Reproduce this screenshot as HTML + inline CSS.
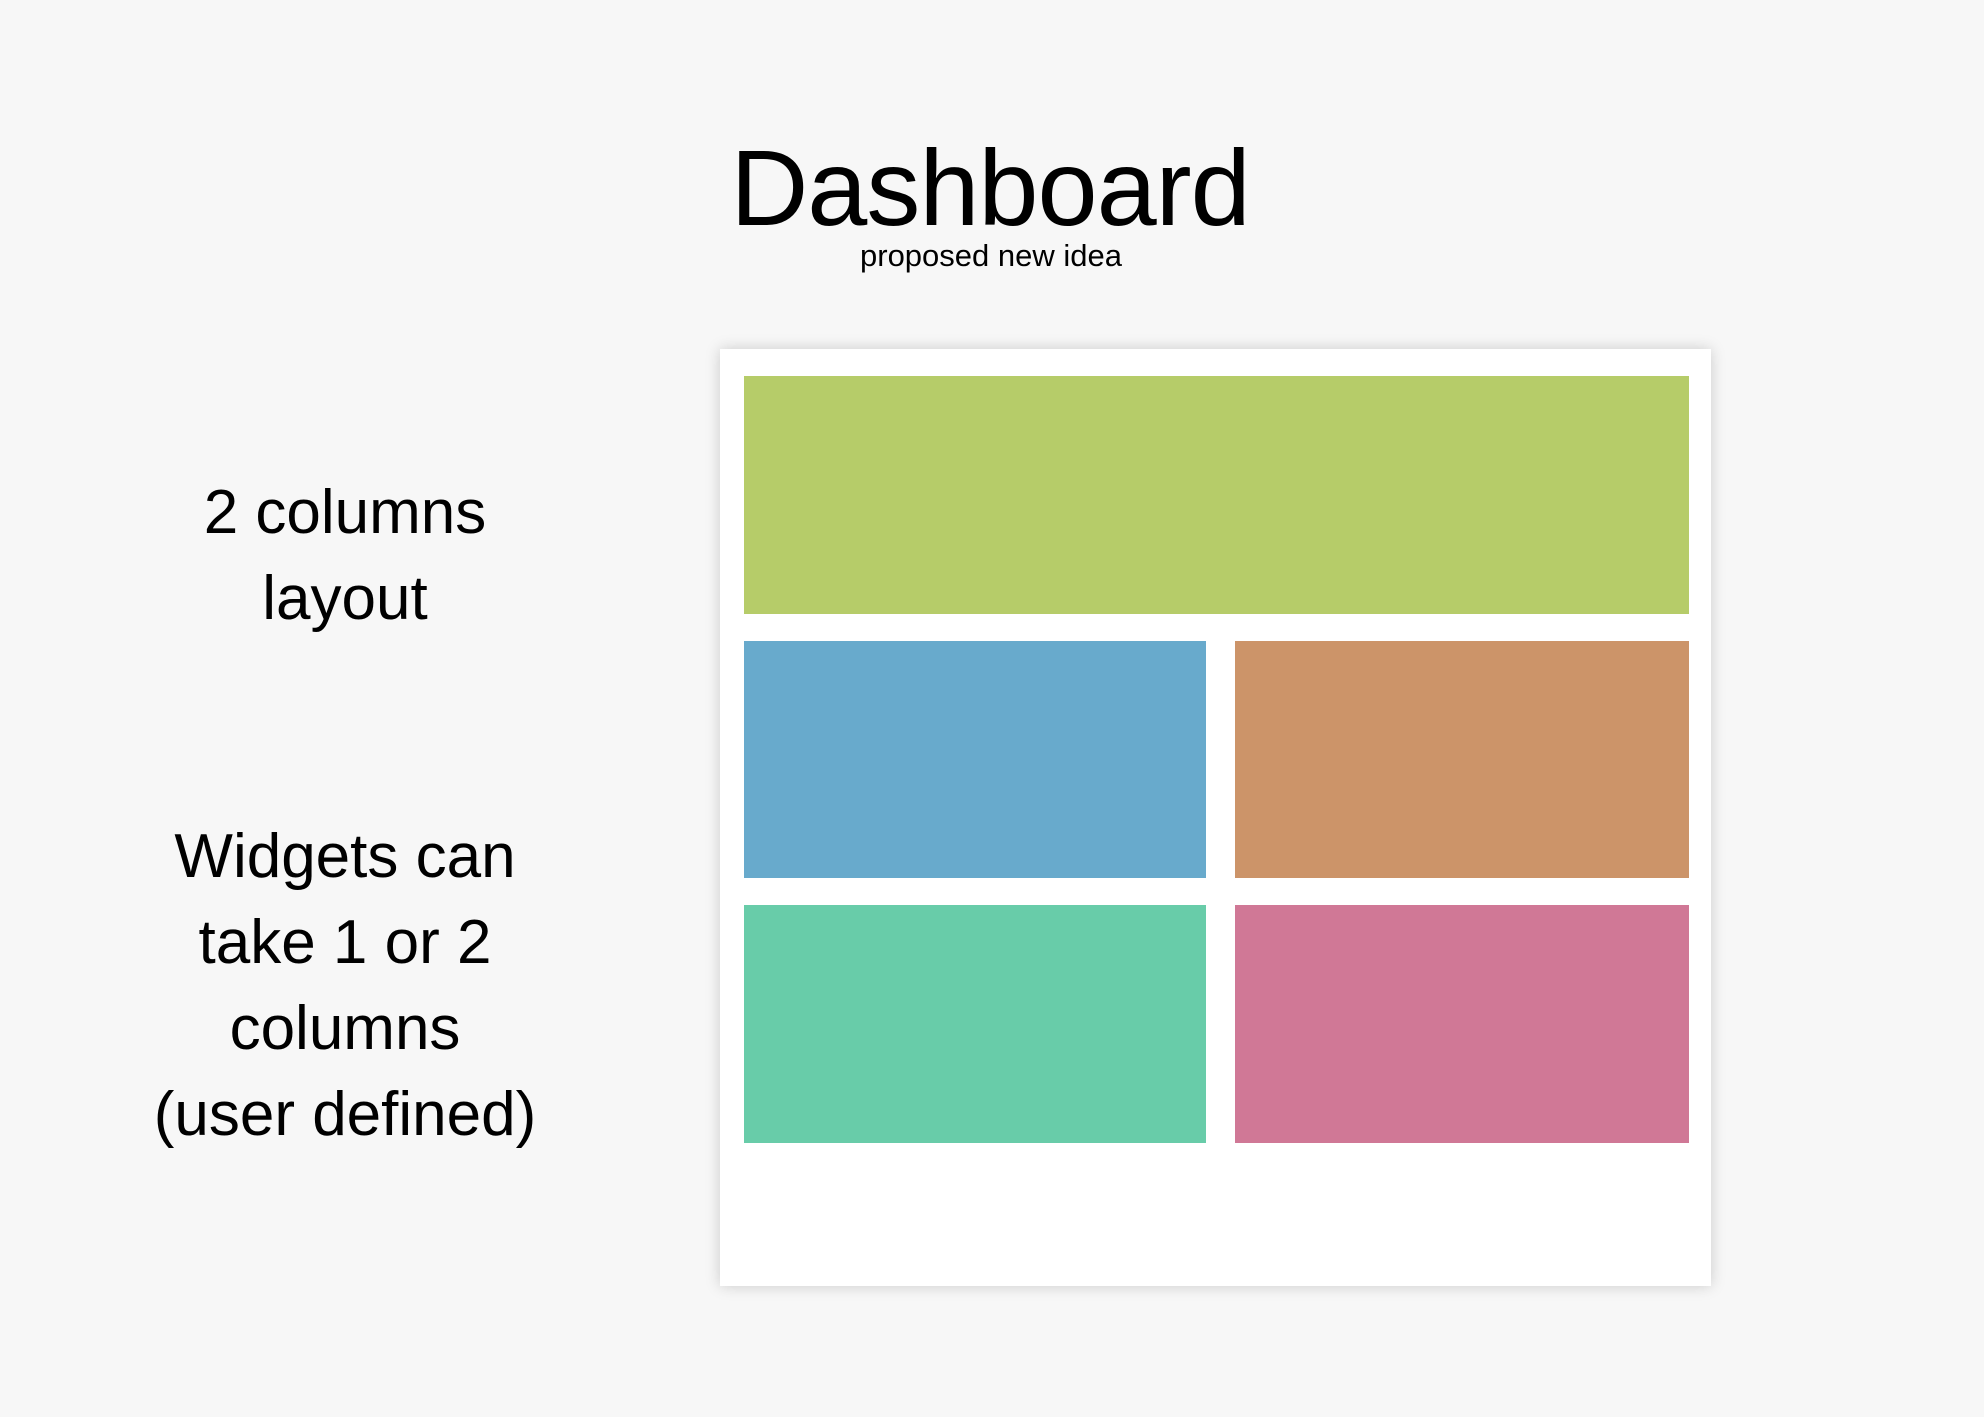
<!DOCTYPE html>
<html><head><meta charset="utf-8"><style>
html,body{margin:0;padding:0;}
body{width:1984px;height:1417px;background:#f7f7f7;position:relative;overflow:hidden;font-family:"Liberation Sans",sans-serif;color:#000;}
.t{position:absolute;white-space:nowrap;}
#title{left:0;width:1980px;text-align:center;top:128px;font-size:108px;line-height:120px;letter-spacing:-1px;}
#sub{left:0;width:1982px;text-align:center;top:236px;font-size:31px;line-height:40px;}
.side{left:0;width:690px;text-align:center;font-size:62px;line-height:86px;}
#panel{position:absolute;left:720px;top:349px;width:991px;height:937px;background:#fff;box-shadow:0 0 14px rgba(0,0,0,0.18);}
.b{position:absolute;}
</style></head><body>
<div class="t" id="title">Dashboard</div>
<div class="t" id="sub">proposed new idea</div>
<div class="t side" style="top:470px;">2 columns<br>layout</div>
<div class="t side" style="top:814px;">Widgets can<br>take 1 or 2<br>columns<br>(user defined)</div>
<div id="panel"></div>
<div class="b" style="left:744px;top:376px;width:945px;height:238px;background:#b6cc69;"></div>
<div class="b" style="left:744px;top:641px;width:462px;height:237px;background:#68aacc;"></div>
<div class="b" style="left:1235px;top:641px;width:454px;height:237px;background:#cc9469;"></div>
<div class="b" style="left:744px;top:905px;width:462px;height:238px;background:#68cca9;"></div>
<div class="b" style="left:1235px;top:905px;width:454px;height:238px;background:#d07896;"></div>
</body></html>
